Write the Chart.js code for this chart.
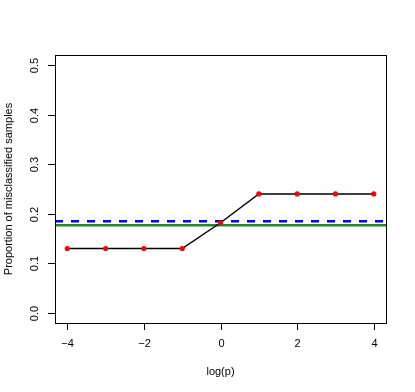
<!DOCTYPE html>
<html><head><meta charset="utf-8">
<script src="https://cdn.jsdelivr.net/npm/chart.js@4"></script>
<style>html,body{margin:0;padding:0;background:#fff}#wrap{width:415px;height:392px}</style>
</head><body><div id="wrap"><canvas id="c" width="415" height="392"></canvas></div>
<script>
const logP = [-4,-3,-2,-1,0,1,2,3,4];
const misclassified = [0.13,0.13,0.13,0.13,0.182,0.24,0.24,0.24,0.24];
const blueLevel = 0.185;
const greenLevel = 0.177;
const xTicks = [-4,-2,0,2,4];
const xTickLabels = ['\u22124','\u22122','0','2','4'];
const yTicks = [0,0.1,0.2,0.3,0.4,0.5];
const yTickLabels = ['0.0','0.1','0.2','0.3','0.4','0.5'];
const xTitle = 'log(p)';
const yTitle = 'Proportion of misclassified samples';
const xMin = -4.32, xMax = 4.32, yMin = -0.02, yMax = 0.52;

const FONT = '11px "Liberation Sans", Arial, sans-serif';

const rAxes = {
  id: 'rAxes',
  afterDraw(chart) {
    const ctx = chart.ctx, a = chart.chartArea;
    const xs = chart.scales.x, ys = chart.scales.y;
    ctx.save();
    ctx.strokeStyle = '#000'; ctx.lineWidth = 1;
    ctx.strokeRect(Math.round(a.left)+0.5, Math.round(a.top)+0.5, Math.round(a.right-a.left), Math.round(a.bottom-a.top));
    ctx.fillStyle = '#000'; ctx.font = FONT;
    // x ticks
    ctx.textAlign = 'center'; ctx.textBaseline = 'middle';
    xTicks.forEach((v,i) => {
      const px = Math.round(xs.getPixelForValue(v)) + 0.5;
      ctx.beginPath(); ctx.moveTo(px, a.bottom); ctx.lineTo(px, a.bottom + 7); ctx.stroke();
      ctx.fillText(xTickLabels[i], px, a.bottom + 21);
    });
    ctx.fillText(xTitle, (a.left + a.right)/2, a.bottom + 49);
    // y ticks
    yTicks.forEach((v,i) => {
      const py = Math.round(ys.getPixelForValue(v)) + 0.5;
      ctx.beginPath(); ctx.moveTo(a.left, py); ctx.lineTo(a.left - 7, py); ctx.stroke();
      ctx.save(); ctx.translate(a.left - 20, py); ctx.rotate(-Math.PI/2);
      ctx.fillText(yTickLabels[i], 0, 0); ctx.restore();
    });
    ctx.save(); ctx.translate(8.5, (a.top + a.bottom)/2); ctx.rotate(-Math.PI/2);
    ctx.fillText(yTitle, 0, 0); ctx.restore();
    ctx.restore();
  }
};

new Chart(document.getElementById('c'), {
  type: 'scatter',
  data: {
    datasets: [
      { data: [{x:xMin,y:greenLevel},{x:xMax,y:greenLevel}], showLine: true, borderColor: '#228B22', borderWidth: 2.5, pointRadius: 0, order: 3 },
      { data: [{x:xMin,y:blueLevel},{x:xMax,y:blueLevel}], showLine: true, borderColor: '#0000FF', borderWidth: 2.5, borderDash: [8,8], pointRadius: 0, order: 2 },
      { data: logP.map((x,i)=>({x, y: misclassified[i]})), showLine: true, borderColor: '#000', borderWidth: 1.5,
        pointRadius: 2.6, pointBackgroundColor: '#FF0000', pointBorderColor: '#FF0000', pointBorderWidth: 0, order: 1 }
    ]
  },
  options: {
    animation: false, responsive: false, devicePixelRatio: 1,
    layout: { padding: { left: 55, right: 29, top: 55, bottom: 69 } },
    plugins: { legend: { display: false }, tooltip: { enabled: false } },
    scales: {
      x: { type: 'linear', min: xMin, max: xMax, display: false },
      y: { type: 'linear', min: yMin, max: yMax, display: false }
    }
  },
  plugins: [rAxes]
});
</script></body></html>
